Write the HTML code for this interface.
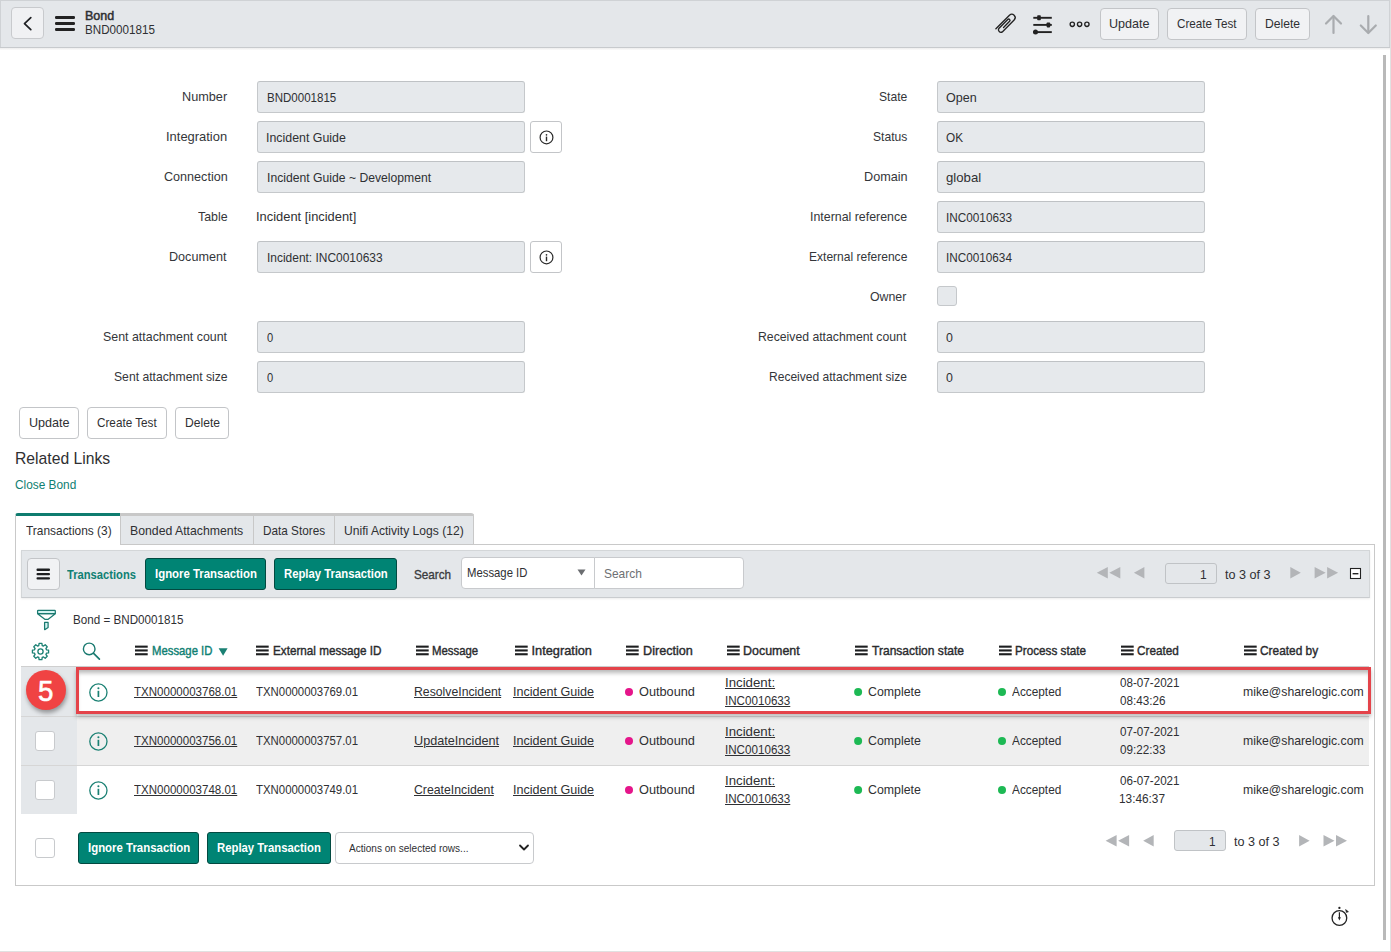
<!DOCTYPE html>
<html><head><meta charset="utf-8"><title>Bond BND0001815</title>
<style>
html,body{margin:0;padding:0;background:#fff;width:1391px;height:952px;overflow:hidden;position:relative}
.b{position:absolute}
.t{position:absolute;white-space:nowrap;font-family:"Liberation Sans",sans-serif;transform-origin:0 0}
</style></head><body>
<div class="b" style="left:0px;top:0px;width:1391px;height:47px;background:#e4e7ea;border-top:1px solid #cfd2d5;border-left:1px solid #cfd2d5;box-sizing:border-box"></div>
<div class="b" style="left:0px;top:47px;width:1391px;height:1px;background:#c7cacd"></div>
<div class="b" style="left:0px;top:48px;width:1390px;height:2px;background:linear-gradient(#ededed,#fbfbfb)"></div>
<div class="b" style="left:1389px;top:0px;width:1px;height:47px;background:#cfd2d5"></div>
<div class="b" style="left:1390px;top:0px;width:1px;height:952px;background:#e1e1e1"></div>
<div class="b" style="left:0px;top:951px;width:1391px;height:1px;background:#e1e1e1"></div>
<div class="b" style="left:11px;top:7px;width:33px;height:32px;background:#f0f1f3;border:1px solid #c8cacd;border-radius:4px;box-sizing:border-box"></div>
<div class="b" style="left:1100px;top:8px;width:59px;height:32px;background:#f1f2f4;border:1px solid #c3c5c8;border-radius:4px;box-sizing:border-box"></div>
<div class="b" style="left:1167px;top:8px;width:80px;height:32px;background:#f1f2f4;border:1px solid #c3c5c8;border-radius:4px;box-sizing:border-box"></div>
<div class="b" style="left:1255px;top:8px;width:55px;height:32px;background:#f1f2f4;border:1px solid #c3c5c8;border-radius:4px;box-sizing:border-box"></div>
<div class="b" style="left:1383px;top:55px;width:3px;height:885px;background:#b9b9b9"></div>
<div class="b" style="left:257px;top:81px;width:268px;height:32px;background:#e6e9ec;border:1px solid #c5c8cb;border-top-color:#bfc2c5;border-radius:3px;box-sizing:border-box"></div>
<div class="b" style="left:257px;top:121px;width:268px;height:32px;background:#e6e9ec;border:1px solid #c5c8cb;border-top-color:#bfc2c5;border-radius:3px;box-sizing:border-box"></div>
<div class="b" style="left:257px;top:161px;width:268px;height:32px;background:#e6e9ec;border:1px solid #c5c8cb;border-top-color:#bfc2c5;border-radius:3px;box-sizing:border-box"></div>
<div class="b" style="left:257px;top:241px;width:268px;height:32px;background:#e6e9ec;border:1px solid #c5c8cb;border-top-color:#bfc2c5;border-radius:3px;box-sizing:border-box"></div>
<div class="b" style="left:257px;top:321px;width:268px;height:32px;background:#e6e9ec;border:1px solid #c5c8cb;border-top-color:#bfc2c5;border-radius:3px;box-sizing:border-box"></div>
<div class="b" style="left:257px;top:361px;width:268px;height:32px;background:#e6e9ec;border:1px solid #c5c8cb;border-top-color:#bfc2c5;border-radius:3px;box-sizing:border-box"></div>
<div class="b" style="left:937px;top:81px;width:268px;height:32px;background:#e6e9ec;border:1px solid #c5c8cb;border-top-color:#bfc2c5;border-radius:3px;box-sizing:border-box"></div>
<div class="b" style="left:937px;top:121px;width:268px;height:32px;background:#e6e9ec;border:1px solid #c5c8cb;border-top-color:#bfc2c5;border-radius:3px;box-sizing:border-box"></div>
<div class="b" style="left:937px;top:161px;width:268px;height:32px;background:#e6e9ec;border:1px solid #c5c8cb;border-top-color:#bfc2c5;border-radius:3px;box-sizing:border-box"></div>
<div class="b" style="left:937px;top:201px;width:268px;height:32px;background:#e6e9ec;border:1px solid #c5c8cb;border-top-color:#bfc2c5;border-radius:3px;box-sizing:border-box"></div>
<div class="b" style="left:937px;top:241px;width:268px;height:32px;background:#e6e9ec;border:1px solid #c5c8cb;border-top-color:#bfc2c5;border-radius:3px;box-sizing:border-box"></div>
<div class="b" style="left:937px;top:321px;width:268px;height:32px;background:#e6e9ec;border:1px solid #c5c8cb;border-top-color:#bfc2c5;border-radius:3px;box-sizing:border-box"></div>
<div class="b" style="left:937px;top:361px;width:268px;height:32px;background:#e6e9ec;border:1px solid #c5c8cb;border-top-color:#bfc2c5;border-radius:3px;box-sizing:border-box"></div>
<div class="b" style="left:530px;top:121px;width:32px;height:32px;background:#fff;border:1px solid #c3c5c8;border-radius:3px;box-sizing:border-box"></div>
<div class="b" style="left:530px;top:241px;width:32px;height:32px;background:#fff;border:1px solid #c3c5c8;border-radius:3px;box-sizing:border-box"></div>
<div class="b" style="left:937px;top:286px;width:20px;height:20px;background:#e6e9ec;border:1px solid #c5c8cb;border-radius:3px;box-sizing:border-box"></div>
<div class="b" style="left:19px;top:407px;width:60px;height:32px;background:#fff;border:1px solid #c3c5c8;border-radius:4px;box-sizing:border-box"></div>
<div class="b" style="left:87px;top:407px;width:80px;height:32px;background:#fff;border:1px solid #c3c5c8;border-radius:4px;box-sizing:border-box"></div>
<div class="b" style="left:175px;top:407px;width:54px;height:32px;background:#fff;border:1px solid #c3c5c8;border-radius:4px;box-sizing:border-box"></div>
<div class="b" style="left:15px;top:513px;width:106px;height:32px;background:#fff;border-left:1px solid #c9c9c9;border-top:3px solid #0f7c6f;border-radius:3px 0 0 0;box-sizing:border-box"></div>
<div class="b" style="left:120px;top:513px;width:354px;height:32px;background:#e4e7ea;border-top:3px solid #c8c8c8;border-right:1px solid #c8c8c8;border-bottom:1px solid #c8c8c8;border-radius:0 3px 0 0;box-sizing:border-box"></div>
<div class="b" style="left:120px;top:516px;width:1px;height:28px;background:#c8c8c8"></div>
<div class="b" style="left:253px;top:516px;width:1px;height:28px;background:#c8c8c8"></div>
<div class="b" style="left:334px;top:516px;width:1px;height:28px;background:#c8c8c8"></div>
<div class="b" style="left:15px;top:544px;width:1px;height:342px;background:#c9c9c9"></div>
<div class="b" style="left:473px;top:544px;width:902px;height:1px;background:#c9c9c9"></div>
<div class="b" style="left:1374px;top:544px;width:1px;height:342px;background:#c9c9c9"></div>
<div class="b" style="left:15px;top:885px;width:1360px;height:1px;background:#c9c9c9"></div>
<div class="b" style="left:21px;top:550px;width:1349px;height:48px;background:#e4e7ea;border:1px solid #d3d6d8;border-bottom-color:#c9cccf;box-sizing:border-box;box-shadow:0 1px 2px rgba(0,0,0,.08)"></div>
<div class="b" style="left:27px;top:558px;width:33px;height:32px;background:#f1f2f4;border:1px solid #c3c5c8;border-radius:4px;box-sizing:border-box"></div>
<div class="b" style="left:145px;top:558px;width:121px;height:32px;background:#008474;border:1px solid #024a41;border-radius:3px;box-sizing:border-box"></div>
<div class="b" style="left:274px;top:558px;width:123px;height:32px;background:#008474;border:1px solid #024a41;border-radius:3px;box-sizing:border-box"></div>
<div class="b" style="left:461px;top:557px;width:134px;height:32px;background:#fff;border:1px solid #c8cacd;border-radius:4px 0 0 4px;box-sizing:border-box"></div>
<div class="b" style="left:594px;top:557px;width:150px;height:32px;background:#fff;border:1px solid #c8cacd;border-radius:0 4px 4px 0;box-sizing:border-box"></div>
<div class="b" style="left:1165px;top:563px;width:52px;height:21px;background:#e4e7ea;border:1px solid #c0c3c6;border-radius:3px;box-sizing:border-box"></div>
<div class="b" style="left:21px;top:666px;width:56px;height:148px;background:#e4e7ea"></div>
<div class="b" style="left:21px;top:666px;width:1348px;height:1px;background:#cfcfcf"></div>
<div class="b" style="left:77px;top:717px;width:1292px;height:48px;background:#efefef"></div>
<div class="b" style="left:21px;top:716px;width:1348px;height:1px;background:#d6d6d6"></div>
<div class="b" style="left:21px;top:765px;width:1348px;height:1px;background:#d6d6d6"></div>
<div class="b" style="left:35px;top:731px;width:20px;height:20px;background:#fff;border:1px solid #c8cacd;border-radius:3px;box-sizing:border-box"></div>
<div class="b" style="left:35px;top:780px;width:20px;height:20px;background:#fff;border:1px solid #c8cacd;border-radius:3px;box-sizing:border-box"></div>
<div class="b" style="left:35px;top:838px;width:20px;height:20px;background:#fff;border:1px solid #c8cacd;border-radius:3px;box-sizing:border-box"></div>
<div class="b" style="left:78px;top:832px;width:121px;height:32px;background:#008474;border:1px solid #024a41;border-radius:3px;box-sizing:border-box"></div>
<div class="b" style="left:207px;top:832px;width:124px;height:32px;background:#008474;border:1px solid #024a41;border-radius:3px;box-sizing:border-box"></div>
<div class="b" style="left:335px;top:832px;width:199px;height:32px;background:#fff;border:1px solid #c8cacd;border-radius:4px;box-sizing:border-box"></div>
<div class="b" style="left:1174px;top:830px;width:52px;height:21px;background:#e4e7ea;border:1px solid #c0c3c6;border-radius:3px;box-sizing:border-box"></div>
<div class="b" style="left:76px;top:667px;width:1295px;height:47px;border:3px solid #e4434a;box-sizing:border-box;box-shadow:0 3px 4px rgba(0,0,0,.25), inset 0 5px 4px -2px rgba(0,0,0,.28)"></div>
<div class="b" style="left:26px;top:670px;width:40px;height:40px;background:#f04343;border-radius:50%;box-shadow:1px 3px 4px rgba(0,0,0,.35)"></div>
<svg class="b" style="left:20px;top:14px" width="16" height="20" viewBox="0 0 16 20" ><path d="M10.8 3.6 L4.5 9.6 L10.8 15.7" fill="none" stroke="#1f2124" stroke-width="1.7" stroke-linecap="round" stroke-linejoin="round"/></svg>
<svg class="b" style="left:53px;top:14px" width="24" height="20" viewBox="0 0 24 20" ><rect x="2" y="2" width="20" height="3" rx="1.2" fill="#222"/><rect x="2" y="8" width="20" height="3" rx="1.2" fill="#222"/><rect x="2" y="14" width="20" height="3" rx="1.2" fill="#222"/></svg>
<svg class="b" style="left:990px;top:8px" width="30" height="30" viewBox="0 0 30 30" ><path transform="matrix(0.7071,-0.7071,0.7071,0.7071,-0.05,20.28)" d="M3.9 4.5 L23 4.6 A3.3 3.3 0 0 1 23 11.2 L6.2 11.3 A2.5 2.5 0 0 1 6.2 6.4 L18.8 6.4 A1.3 1.3 0 0 1 18.8 9.0 L10.2 9.0" fill="none" stroke="#222" stroke-width="1.35" stroke-linecap="round"/></svg>
<svg class="b" style="left:1031px;top:14px" width="24" height="22" viewBox="0 0 24 22" ><g stroke="#222" stroke-width="1.9"><line x1="2.3" y1="3.8" x2="20.8" y2="3.8"/><line x1="2.3" y1="10.9" x2="20.8" y2="10.9"/><line x1="2.3" y1="18.1" x2="20.8" y2="18.1"/></g><g fill="#222"><rect x="6.2" y="1.3" width="3.6" height="5" rx="0.8"/><rect x="15.6" y="8.4" width="3.6" height="5" rx="0.8"/><circle cx="4.5" cy="18.1" r="2.5"/></g></svg>
<svg class="b" style="left:1068px;top:19px" width="24" height="10" viewBox="0 0 24 10" ><circle cx="4.3" cy="5.3" r="2.15" fill="none" stroke="#222" stroke-width="1.35"/><circle cx="11.6" cy="5.3" r="2.15" fill="none" stroke="#222" stroke-width="1.35"/><circle cx="18.9" cy="5.3" r="2.15" fill="none" stroke="#222" stroke-width="1.35"/></svg>
<svg class="b" style="left:1323px;top:13px" width="22" height="24" viewBox="0 0 22 24" ><g fill="none" stroke="#a9acaf" stroke-width="2.2" stroke-linecap="round" stroke-linejoin="round"><path d="M10.5 20 V3.5"/><path d="M3 10.5 L10.5 3 L18 10.5"/></g></svg>
<svg class="b" style="left:1357px;top:13px" width="22" height="24" viewBox="0 0 22 24" ><g fill="none" stroke="#a9acaf" stroke-width="2.2" stroke-linecap="round" stroke-linejoin="round"><path d="M11.3 3 V19.5"/><path d="M3.8 12.5 L11.3 20 L18.8 12.5"/></g></svg>
<svg class="b" style="left:538px;top:129px" width="17" height="17" viewBox="0 0 17 17" ><circle cx="8.5" cy="8.4" r="6.4" fill="none" stroke="#2a2a2a" stroke-width="1.2"/><rect x="7.8" y="7.6" width="1.4" height="4.6" fill="#2a2a2a"/><circle cx="8.5" cy="5.8" r="0.85" fill="#2a2a2a"/></svg>
<svg class="b" style="left:538px;top:249px" width="17" height="17" viewBox="0 0 17 17" ><circle cx="8.5" cy="8.4" r="6.4" fill="none" stroke="#2a2a2a" stroke-width="1.2"/><rect x="7.8" y="7.6" width="1.4" height="4.6" fill="#2a2a2a"/><circle cx="8.5" cy="5.8" r="0.85" fill="#2a2a2a"/></svg>
<svg class="b" style="left:35px;top:567px" width="17" height="14" viewBox="0 0 17 14" ><rect x="1.5" y="1.6" width="13.5" height="2.3" rx="1" fill="#1d1e20"/><rect x="1.5" y="5.9" width="13.5" height="2.3" rx="1" fill="#1d1e20"/><rect x="1.5" y="10.2" width="13.5" height="2.3" rx="1" fill="#1d1e20"/></svg>
<svg class="b" style="left:576px;top:567px" width="12" height="10" viewBox="0 0 12 10" ><path d="M1.5 2.5 L9.5 2.5 L5.5 8.5 Z" fill="#6b6d70"/></svg>
<svg class="b" style="left:1090px;top:567px" width="280" height="12" viewBox="0 0 280 12" ><path d="M6.7999999999999545 5.75 L17.799999999999955 0 L17.799999999999955 11.5 Z" fill="#b3b5b8"/><path d="M19.299999999999955 5.75 L30.299999999999955 0 L30.299999999999955 11.5 Z" fill="#b3b5b8"/><path d="M43.90000000000009 5.75 L54.40000000000009 0 L54.40000000000009 11.5 Z" fill="#b3b5b8"/><path d="M210.79999999999995 5.75 L200.29999999999995 0 L200.29999999999995 11.5 Z" fill="#b3b5b8"/><path d="M235.5999999999999 5.75 L224.5999999999999 0 L224.5999999999999 11.5 Z" fill="#b3b5b8"/><path d="M248.0999999999999 5.75 L237.0999999999999 0 L237.0999999999999 11.5 Z" fill="#b3b5b8"/></svg>
<svg class="b" style="left:1090px;top:834.5px" width="280" height="12" viewBox="0 0 280 12" ><path d="M15.599999999999909 5.75 L26.59999999999991 0 L26.59999999999991 11.5 Z" fill="#b3b5b8"/><path d="M28.09999999999991 5.75 L39.09999999999991 0 L39.09999999999991 11.5 Z" fill="#b3b5b8"/><path d="M53.200000000000045 5.75 L63.700000000000045 0 L63.700000000000045 11.5 Z" fill="#b3b5b8"/><path d="M219.5999999999999 5.75 L209.0999999999999 0 L209.0999999999999 11.5 Z" fill="#b3b5b8"/><path d="M244.5 5.75 L233.5 0 L233.5 11.5 Z" fill="#b3b5b8"/><path d="M257.0 5.75 L246.0 0 L246.0 11.5 Z" fill="#b3b5b8"/></svg>
<svg class="b" style="left:1349px;top:567px" width="13" height="13" viewBox="0 0 13 13" ><rect x="1.5" y="1.5" width="10" height="10" fill="#fff" stroke="#222" stroke-width="1.1"/><rect x="3.6" y="6" width="5.8" height="1.4" fill="#222"/></svg>
<svg class="b" style="left:35px;top:608px" width="23" height="24" viewBox="0 0 23 24" ><g fill="#d2f3f1" stroke="#1a7a70" stroke-width="1.25" stroke-linejoin="round"><rect x="2.6" y="2.3" width="17.7" height="3.4" rx="0.6"/><path d="M2.6 5.7 L20.3 5.7 L13.2 11.3 L9.8 11.3 Z" fill="none"/><path d="M9.6 14.4 L13.1 14.4 L13.1 19.6 L10.1 21.6 L9.6 21.6 Z"/></g></svg>
<svg class="b" style="left:31px;top:642px" width="19" height="19" viewBox="0 0 19 19" ><path d="M15.46 7.78 L17.58 8.09 L17.58 10.91 L15.46 11.22 L14.93 12.50 L16.21 14.22 L14.22 16.21 L12.50 14.93 L11.22 15.46 L10.91 17.58 L8.09 17.58 L7.78 15.46 L6.50 14.93 L4.78 16.21 L2.79 14.22 L4.07 12.50 L3.54 11.22 L1.42 10.91 L1.42 8.09 L3.54 7.78 L4.07 6.50 L2.79 4.78 L4.78 2.79 L6.50 4.07 L7.78 3.54 L8.09 1.42 L10.91 1.42 L11.22 3.54 L12.50 4.07 L14.22 2.79 L16.21 4.78 L14.93 6.50 Z" fill="none" stroke="#1a8073" stroke-width="1.3" stroke-linejoin="round"/><circle cx="9.5" cy="9.5" r="2.6" fill="none" stroke="#1a8073" stroke-width="1.3"/></svg>
<svg class="b" style="left:82px;top:642px" width="20" height="20" viewBox="0 0 20 20" ><circle cx="7.2" cy="6.9" r="5.8" fill="none" stroke="#1a7a70" stroke-width="1.4"/><line x1="11.6" y1="11.3" x2="17.4" y2="17.1" stroke="#1a7a70" stroke-width="1.7" stroke-linecap="round"/></svg>
<svg class="b" style="left:135.3px;top:645px" width="14" height="11" viewBox="0 0 14 11" ><rect x="0" y="0.6" width="12.7" height="2.1" fill="#1d1e20"/><rect x="0" y="4.4" width="12.7" height="2.1" fill="#1d1e20"/><rect x="0" y="8.2" width="12.7" height="2.1" fill="#1d1e20"/></svg>
<svg class="b" style="left:256.3px;top:645px" width="14" height="11" viewBox="0 0 14 11" ><rect x="0" y="0.6" width="12.7" height="2.1" fill="#1d1e20"/><rect x="0" y="4.4" width="12.7" height="2.1" fill="#1d1e20"/><rect x="0" y="8.2" width="12.7" height="2.1" fill="#1d1e20"/></svg>
<svg class="b" style="left:415.5px;top:645px" width="14" height="11" viewBox="0 0 14 11" ><rect x="0" y="0.6" width="12.7" height="2.1" fill="#1d1e20"/><rect x="0" y="4.4" width="12.7" height="2.1" fill="#1d1e20"/><rect x="0" y="8.2" width="12.7" height="2.1" fill="#1d1e20"/></svg>
<svg class="b" style="left:515.4px;top:645px" width="14" height="11" viewBox="0 0 14 11" ><rect x="0" y="0.6" width="12.7" height="2.1" fill="#1d1e20"/><rect x="0" y="4.4" width="12.7" height="2.1" fill="#1d1e20"/><rect x="0" y="8.2" width="12.7" height="2.1" fill="#1d1e20"/></svg>
<svg class="b" style="left:626.4px;top:645px" width="14" height="11" viewBox="0 0 14 11" ><rect x="0" y="0.6" width="12.7" height="2.1" fill="#1d1e20"/><rect x="0" y="4.4" width="12.7" height="2.1" fill="#1d1e20"/><rect x="0" y="8.2" width="12.7" height="2.1" fill="#1d1e20"/></svg>
<svg class="b" style="left:727px;top:645px" width="14" height="11" viewBox="0 0 14 11" ><rect x="0" y="0.6" width="12.7" height="2.1" fill="#1d1e20"/><rect x="0" y="4.4" width="12.7" height="2.1" fill="#1d1e20"/><rect x="0" y="8.2" width="12.7" height="2.1" fill="#1d1e20"/></svg>
<svg class="b" style="left:854.8px;top:645px" width="14" height="11" viewBox="0 0 14 11" ><rect x="0" y="0.6" width="12.7" height="2.1" fill="#1d1e20"/><rect x="0" y="4.4" width="12.7" height="2.1" fill="#1d1e20"/><rect x="0" y="8.2" width="12.7" height="2.1" fill="#1d1e20"/></svg>
<svg class="b" style="left:999px;top:645px" width="14" height="11" viewBox="0 0 14 11" ><rect x="0" y="0.6" width="12.7" height="2.1" fill="#1d1e20"/><rect x="0" y="4.4" width="12.7" height="2.1" fill="#1d1e20"/><rect x="0" y="8.2" width="12.7" height="2.1" fill="#1d1e20"/></svg>
<svg class="b" style="left:1120.6px;top:645px" width="14" height="11" viewBox="0 0 14 11" ><rect x="0" y="0.6" width="12.7" height="2.1" fill="#1d1e20"/><rect x="0" y="4.4" width="12.7" height="2.1" fill="#1d1e20"/><rect x="0" y="8.2" width="12.7" height="2.1" fill="#1d1e20"/></svg>
<svg class="b" style="left:1243.5px;top:645px" width="14" height="11" viewBox="0 0 14 11" ><rect x="0" y="0.6" width="12.7" height="2.1" fill="#1d1e20"/><rect x="0" y="4.4" width="12.7" height="2.1" fill="#1d1e20"/><rect x="0" y="8.2" width="12.7" height="2.1" fill="#1d1e20"/></svg>
<svg class="b" style="left:218px;top:647px" width="11" height="10" viewBox="0 0 11 10" ><path d="M0.6 1.2 H9.6 L5.1 8.8 Z" fill="#1a8073"/></svg>
<svg class="b" style="left:88px;top:682.2px" width="21" height="21" viewBox="0 0 21 21" ><circle cx="10.4" cy="10.5" r="8.6" fill="none" stroke="#1a8073" stroke-width="1.3"/><rect x="9.55" y="8.8" width="1.7" height="6.2" fill="#1a8073"/><circle cx="10.4" cy="6.2" r="1.05" fill="#1a8073"/></svg>
<svg class="b" style="left:88px;top:731.3px" width="21" height="21" viewBox="0 0 21 21" ><circle cx="10.4" cy="10.5" r="8.6" fill="none" stroke="#1a8073" stroke-width="1.3"/><rect x="9.55" y="8.8" width="1.7" height="6.2" fill="#1a8073"/><circle cx="10.4" cy="6.2" r="1.05" fill="#1a8073"/></svg>
<svg class="b" style="left:88px;top:780.4px" width="21" height="21" viewBox="0 0 21 21" ><circle cx="10.4" cy="10.5" r="8.6" fill="none" stroke="#1a8073" stroke-width="1.3"/><rect x="9.55" y="8.8" width="1.7" height="6.2" fill="#1a8073"/><circle cx="10.4" cy="6.2" r="1.05" fill="#1a8073"/></svg>
<svg class="b" style="left:623px;top:687px" width="12" height="10" viewBox="0 0 12 10" ><circle cx="6" cy="5" r="4" fill="#e5158a"/></svg>
<svg class="b" style="left:852px;top:687px" width="12" height="10" viewBox="0 0 12 10" ><circle cx="6.1" cy="5" r="4" fill="#1db954"/></svg>
<svg class="b" style="left:996px;top:687px" width="12" height="10" viewBox="0 0 12 10" ><circle cx="6" cy="5" r="4" fill="#1db954"/></svg>
<svg class="b" style="left:623px;top:736px" width="12" height="10" viewBox="0 0 12 10" ><circle cx="6" cy="5" r="4" fill="#e5158a"/></svg>
<svg class="b" style="left:852px;top:736px" width="12" height="10" viewBox="0 0 12 10" ><circle cx="6.1" cy="5" r="4" fill="#1db954"/></svg>
<svg class="b" style="left:996px;top:736px" width="12" height="10" viewBox="0 0 12 10" ><circle cx="6" cy="5" r="4" fill="#1db954"/></svg>
<svg class="b" style="left:623px;top:785px" width="12" height="10" viewBox="0 0 12 10" ><circle cx="6" cy="5" r="4" fill="#e5158a"/></svg>
<svg class="b" style="left:852px;top:785px" width="12" height="10" viewBox="0 0 12 10" ><circle cx="6.1" cy="5" r="4" fill="#1db954"/></svg>
<svg class="b" style="left:996px;top:785px" width="12" height="10" viewBox="0 0 12 10" ><circle cx="6" cy="5" r="4" fill="#1db954"/></svg>
<svg class="b" style="left:518px;top:843px" width="12" height="10" viewBox="0 0 12 10" ><path d="M2 2.5 L6 6.5 L10 2.5" fill="none" stroke="#222" stroke-width="1.8" stroke-linecap="round" stroke-linejoin="round"/></svg>
<svg class="b" style="left:1328px;top:904px" width="24" height="26" viewBox="0 0 24 26" ><circle cx="11.4" cy="14" r="7.35" fill="none" stroke="#222" stroke-width="1.3"/><circle cx="11.4" cy="3.9" r="1.15" fill="#222"/><line x1="11.4" y1="8.3" x2="11.4" y2="14.5" stroke="#222" stroke-width="1.2"/><path d="M9.9 13.3 L11.4 16.6 L12.9 13.3 Z" fill="#222"/><path d="M17.6 5.6 L20.4 7.7 L18.5 8.4 Z" fill="#222" stroke="#222" stroke-width="0.7"/></svg>
<div class="t" style="left:85.42px;top:9.76px;font-size:12.8px;line-height:12.8px;color:#2f3033;transform:scaleX(0.9764);-webkit-text-stroke:0.5px #2f3033;">Bond</div>
<div class="t" style="left:85.47px;top:23.72px;font-size:12.5px;line-height:12.5px;color:#2f3033;transform:scaleX(0.9320);">BND0001815</div>
<div class="t" style="left:1109.35px;top:17.22px;font-size:13.2px;line-height:13.2px;color:#2f3033;transform:scaleX(0.9531);">Update</div>
<div class="t" style="left:1177.47px;top:17.22px;font-size:13.2px;line-height:13.2px;color:#2f3033;transform:scaleX(0.8859);">Create Test</div>
<div class="t" style="left:1265.38px;top:17.22px;font-size:13.2px;line-height:13.2px;color:#2f3033;transform:scaleX(0.9204);">Delete</div>
<div class="t" style="left:181.77px;top:90.19px;font-size:13.6px;line-height:13.6px;color:#34363a;transform:scaleX(0.9334);">Number</div>
<div class="t" style="left:166.46px;top:130.19px;font-size:13.6px;line-height:13.6px;color:#34363a;transform:scaleX(0.9517);">Integration</div>
<div class="t" style="left:163.84px;top:170.19px;font-size:13.6px;line-height:13.6px;color:#34363a;transform:scaleX(0.9266);">Connection</div>
<div class="t" style="left:197.73px;top:210.19px;font-size:13.6px;line-height:13.6px;color:#34363a;transform:scaleX(0.9100);">Table</div>
<div class="t" style="left:169.38px;top:250.19px;font-size:13.6px;line-height:13.6px;color:#34363a;transform:scaleX(0.9276);">Document</div>
<div class="t" style="left:102.75px;top:330.19px;font-size:13.6px;line-height:13.6px;color:#34363a;transform:scaleX(0.9121);">Sent attachment count</div>
<div class="t" style="left:113.66px;top:370.19px;font-size:13.6px;line-height:13.6px;color:#34363a;transform:scaleX(0.8948);">Sent attachment size</div>
<div class="t" style="left:878.86px;top:90.19px;font-size:13.6px;line-height:13.6px;color:#34363a;transform:scaleX(0.8924);">State</div>
<div class="t" style="left:872.77px;top:130.19px;font-size:13.6px;line-height:13.6px;color:#34363a;transform:scaleX(0.8894);">Status</div>
<div class="t" style="left:863.88px;top:170.19px;font-size:13.6px;line-height:13.6px;color:#34363a;transform:scaleX(0.9310);">Domain</div>
<div class="t" style="left:810.11px;top:210.19px;font-size:13.6px;line-height:13.6px;color:#34363a;transform:scaleX(0.9110);">Internal reference</div>
<div class="t" style="left:808.83px;top:250.19px;font-size:13.6px;line-height:13.6px;color:#34363a;transform:scaleX(0.8853);">External reference</div>
<div class="t" style="left:870.46px;top:290.19px;font-size:13.6px;line-height:13.6px;color:#34363a;transform:scaleX(0.9078);">Owner</div>
<div class="t" style="left:758.41px;top:330.19px;font-size:13.6px;line-height:13.6px;color:#34363a;transform:scaleX(0.9002);">Received attachment count</div>
<div class="t" style="left:769.23px;top:370.19px;font-size:13.6px;line-height:13.6px;color:#34363a;transform:scaleX(0.8860);">Received attachment size</div>
<div class="t" style="left:266.65px;top:91.35px;font-size:13.4px;line-height:13.4px;color:#2f3033;transform:scaleX(0.8616);">BND0001815</div>
<div class="t" style="left:266.49px;top:131.35px;font-size:13.4px;line-height:13.4px;color:#2f3033;transform:scaleX(0.9237);">Incident Guide</div>
<div class="t" style="left:266.51px;top:171.35px;font-size:13.4px;line-height:13.4px;color:#2f3033;transform:scaleX(0.9096);">Incident Guide ~ Development</div>
<div class="t" style="left:256.35px;top:210.35px;font-size:13.4px;line-height:13.4px;color:#2f3033;transform:scaleX(0.9622);">Incident [incident]</div>
<div class="t" style="left:266.53px;top:250.85px;font-size:13.4px;line-height:13.4px;color:#2f3033;transform:scaleX(0.8923);">Incident: INC0010633</div>
<div class="t" style="left:267.18px;top:331.35px;font-size:13.4px;line-height:13.4px;color:#2f3033;transform:scaleX(0.8308);">0</div>
<div class="t" style="left:267.18px;top:371.35px;font-size:13.4px;line-height:13.4px;color:#2f3033;transform:scaleX(0.8308);">0</div>
<div class="t" style="left:946.34px;top:91.35px;font-size:13.4px;line-height:13.4px;color:#2f3033;transform:scaleX(0.9353);">Open</div>
<div class="t" style="left:946.37px;top:131.35px;font-size:13.4px;line-height:13.4px;color:#2f3033;transform:scaleX(0.8806);">OK</div>
<div class="t" style="left:946.41px;top:171.35px;font-size:13.4px;line-height:13.4px;color:#2f3033;transform:scaleX(0.9829);">global</div>
<div class="t" style="left:945.85px;top:211.35px;font-size:13.4px;line-height:13.4px;color:#2f3033;transform:scaleX(0.8790);">INC0010633</div>
<div class="t" style="left:945.85px;top:251.35px;font-size:13.4px;line-height:13.4px;color:#2f3033;transform:scaleX(0.8766);">INC0010634</div>
<div class="t" style="left:946.44px;top:331.35px;font-size:13.4px;line-height:13.4px;color:#2f3033;transform:scaleX(0.9231);">0</div>
<div class="t" style="left:946.44px;top:371.35px;font-size:13.4px;line-height:13.4px;color:#2f3033;transform:scaleX(0.9231);">0</div>
<div class="t" style="left:28.54px;top:416.32px;font-size:13.2px;line-height:13.2px;color:#2f3033;transform:scaleX(0.9555);">Update</div>
<div class="t" style="left:96.77px;top:416.32px;font-size:13.2px;line-height:13.2px;color:#2f3033;transform:scaleX(0.8888);">Create Test</div>
<div class="t" style="left:184.68px;top:416.32px;font-size:13.2px;line-height:13.2px;color:#2f3033;transform:scaleX(0.9177);">Delete</div>
<div class="t" style="left:14.60px;top:450.01px;font-size:17px;line-height:17px;color:#2f3033;transform:scaleX(0.9238);">Related Links</div>
<div class="t" style="left:15.27px;top:478.15px;font-size:13.4px;line-height:13.4px;color:#0f8073;transform:scaleX(0.8846);">Close Bond</div>
<div class="t" style="left:25.62px;top:524.22px;font-size:13.2px;line-height:13.2px;color:#2f3033;transform:scaleX(0.9033);">Transactions (3)</div>
<div class="t" style="left:130.37px;top:524.22px;font-size:13.2px;line-height:13.2px;color:#2f3033;transform:scaleX(0.9303);">Bonded Attachments</div>
<div class="t" style="left:263.01px;top:524.22px;font-size:13.2px;line-height:13.2px;color:#2f3033;transform:scaleX(0.8917);">Data Stores</div>
<div class="t" style="left:343.68px;top:524.22px;font-size:13.2px;line-height:13.2px;color:#2f3033;transform:scaleX(0.9173);">Unifi Activity Logs (12)</div>
<div class="t" style="left:67.42px;top:567.52px;font-size:13.2px;line-height:13.2px;color:#0f8073;font-weight:bold;transform:scaleX(0.8479);">Transactions</div>
<div class="t" style="left:154.81px;top:566.92px;font-size:13.2px;line-height:13.2px;color:#fff;font-weight:bold;transform:scaleX(0.8642);">Ignore Transaction</div>
<div class="t" style="left:284.11px;top:566.92px;font-size:13.2px;line-height:13.2px;color:#fff;font-weight:bold;transform:scaleX(0.8579);">Replay Transaction</div>
<div class="t" style="left:414.37px;top:567.62px;font-size:13.2px;line-height:13.2px;color:#3a3c40;transform:scaleX(0.8863);-webkit-text-stroke:0.35px #3a3c40;">Search</div>
<div class="t" style="left:466.53px;top:566.39px;font-size:13px;line-height:13px;color:#2f3033;transform:scaleX(0.8706);">Message ID</div>
<div class="t" style="left:603.86px;top:566.72px;font-size:13.2px;line-height:13.2px;color:#6e7073;transform:scaleX(0.9063);">Search</div>
<div class="t" style="left:1199.89px;top:567.52px;font-size:13.2px;line-height:13.2px;color:#2f3033;transform:scaleX(0.9123);">1</div>
<div class="t" style="left:1224.71px;top:567.52px;font-size:13.2px;line-height:13.2px;color:#2f3033;transform:scaleX(0.9561);">to 3 of 3</div>
<div class="t" style="left:72.60px;top:613.29px;font-size:13px;line-height:13px;color:#2f3033;transform:scaleX(0.8956);">Bond = BND0001815</div>
<div class="t" style="left:151.62px;top:644.86px;font-size:12.8px;line-height:12.8px;color:#0f8073;transform:scaleX(0.8846);-webkit-text-stroke:0.4px #0f8073;">Message ID</div>
<div class="t" style="left:272.59px;top:644.86px;font-size:12.8px;line-height:12.8px;color:#2a2b2e;transform:scaleX(0.9136);-webkit-text-stroke:0.4px #2a2b2e;">External message ID</div>
<div class="t" style="left:431.91px;top:644.86px;font-size:12.8px;line-height:12.8px;color:#2a2b2e;transform:scaleX(0.8894);-webkit-text-stroke:0.4px #2a2b2e;">Message</div>
<div class="t" style="left:531.50px;top:644.86px;font-size:12.8px;line-height:12.8px;color:#2a2b2e;-webkit-text-stroke:0.4px #2a2b2e;">Integration</div>
<div class="t" style="left:642.71px;top:644.86px;font-size:12.8px;line-height:12.8px;color:#2a2b2e;transform:scaleX(0.9880);-webkit-text-stroke:0.4px #2a2b2e;">Direction</div>
<div class="t" style="left:743.23px;top:644.86px;font-size:12.8px;line-height:12.8px;color:#2a2b2e;transform:scaleX(0.9726);-webkit-text-stroke:0.4px #2a2b2e;">Document</div>
<div class="t" style="left:872.31px;top:644.86px;font-size:12.8px;line-height:12.8px;color:#2a2b2e;transform:scaleX(0.9416);-webkit-text-stroke:0.4px #2a2b2e;">Transaction state</div>
<div class="t" style="left:1015.29px;top:644.86px;font-size:12.8px;line-height:12.8px;color:#2a2b2e;transform:scaleX(0.9146);-webkit-text-stroke:0.4px #2a2b2e;">Process state</div>
<div class="t" style="left:1137.35px;top:644.86px;font-size:12.8px;line-height:12.8px;color:#2a2b2e;transform:scaleX(0.9187);-webkit-text-stroke:0.4px #2a2b2e;">Created</div>
<div class="t" style="left:1260.44px;top:644.86px;font-size:12.8px;line-height:12.8px;color:#2a2b2e;transform:scaleX(0.9277);-webkit-text-stroke:0.4px #2a2b2e;">Created by</div>
<div class="t" style="left:133.74px;top:685.15px;font-size:13.4px;line-height:13.4px;color:#2f3033;transform:scaleX(0.8613);text-decoration:underline;text-underline-offset:1px;">TXN0000003768.01</div>
<div class="t" style="left:255.64px;top:685.15px;font-size:13.4px;line-height:13.4px;color:#2f3033;transform:scaleX(0.8513);">TXN0000003769.01</div>
<div class="t" style="left:413.69px;top:685.15px;font-size:13.4px;line-height:13.4px;color:#2f3033;transform:scaleX(0.9149);text-decoration:underline;text-underline-offset:1px;">ResolveIncident</div>
<div class="t" style="left:513.17px;top:685.15px;font-size:13.4px;line-height:13.4px;color:#2f3033;transform:scaleX(0.9379);text-decoration:underline;text-underline-offset:1px;">Incident Guide</div>
<div class="t" style="left:639.23px;top:685.15px;font-size:13.4px;line-height:13.4px;color:#2f3033;transform:scaleX(0.9511);">Outbound</div>
<div class="t" style="left:725.11px;top:676.45px;font-size:13.4px;line-height:13.4px;color:#2f3033;transform:scaleX(0.9890);text-decoration:underline;text-underline-offset:1px;">Incident:</div>
<div class="t" style="left:725.26px;top:694.35px;font-size:13.4px;line-height:13.4px;color:#2f3033;transform:scaleX(0.8681);text-decoration:underline;text-underline-offset:1px;">INC0010633</div>
<div class="t" style="left:868.05px;top:685.15px;font-size:13.4px;line-height:13.4px;color:#2f3033;transform:scaleX(0.9218);">Complete</div>
<div class="t" style="left:1012.30px;top:685.15px;font-size:13.4px;line-height:13.4px;color:#2f3033;transform:scaleX(0.8833);">Accepted</div>
<div class="t" style="left:1119.77px;top:676.35px;font-size:13.4px;line-height:13.4px;color:#2f3033;transform:scaleX(0.8695);">08-07-2021</div>
<div class="t" style="left:1119.76px;top:693.75px;font-size:13.4px;line-height:13.4px;color:#2f3033;transform:scaleX(0.8727);">08:43:26</div>
<div class="t" style="left:1242.97px;top:685.15px;font-size:13.4px;line-height:13.4px;color:#2f3033;transform:scaleX(0.9145);">mike@sharelogic.com</div>
<div class="t" style="left:133.74px;top:734.15px;font-size:13.4px;line-height:13.4px;color:#2f3033;transform:scaleX(0.8613);text-decoration:underline;text-underline-offset:1px;">TXN0000003756.01</div>
<div class="t" style="left:255.64px;top:734.15px;font-size:13.4px;line-height:13.4px;color:#2f3033;transform:scaleX(0.8513);">TXN0000003757.01</div>
<div class="t" style="left:413.76px;top:734.15px;font-size:13.4px;line-height:13.4px;color:#2f3033;transform:scaleX(0.9437);text-decoration:underline;text-underline-offset:1px;">UpdateIncident</div>
<div class="t" style="left:513.17px;top:734.15px;font-size:13.4px;line-height:13.4px;color:#2f3033;transform:scaleX(0.9379);text-decoration:underline;text-underline-offset:1px;">Incident Guide</div>
<div class="t" style="left:639.23px;top:734.15px;font-size:13.4px;line-height:13.4px;color:#2f3033;transform:scaleX(0.9511);">Outbound</div>
<div class="t" style="left:725.11px;top:725.45px;font-size:13.4px;line-height:13.4px;color:#2f3033;transform:scaleX(0.9890);text-decoration:underline;text-underline-offset:1px;">Incident:</div>
<div class="t" style="left:725.26px;top:743.35px;font-size:13.4px;line-height:13.4px;color:#2f3033;transform:scaleX(0.8681);text-decoration:underline;text-underline-offset:1px;">INC0010633</div>
<div class="t" style="left:868.05px;top:734.15px;font-size:13.4px;line-height:13.4px;color:#2f3033;transform:scaleX(0.9218);">Complete</div>
<div class="t" style="left:1012.30px;top:734.15px;font-size:13.4px;line-height:13.4px;color:#2f3033;transform:scaleX(0.8833);">Accepted</div>
<div class="t" style="left:1119.77px;top:725.35px;font-size:13.4px;line-height:13.4px;color:#2f3033;transform:scaleX(0.8695);">07-07-2021</div>
<div class="t" style="left:1119.76px;top:742.75px;font-size:13.4px;line-height:13.4px;color:#2f3033;transform:scaleX(0.8727);">09:22:33</div>
<div class="t" style="left:1242.97px;top:734.15px;font-size:13.4px;line-height:13.4px;color:#2f3033;transform:scaleX(0.9145);">mike@sharelogic.com</div>
<div class="t" style="left:133.74px;top:783.15px;font-size:13.4px;line-height:13.4px;color:#2f3033;transform:scaleX(0.8613);text-decoration:underline;text-underline-offset:1px;">TXN0000003748.01</div>
<div class="t" style="left:255.64px;top:783.15px;font-size:13.4px;line-height:13.4px;color:#2f3033;transform:scaleX(0.8513);">TXN0000003749.01</div>
<div class="t" style="left:414.15px;top:783.15px;font-size:13.4px;line-height:13.4px;color:#2f3033;transform:scaleX(0.9165);text-decoration:underline;text-underline-offset:1px;">CreateIncident</div>
<div class="t" style="left:513.17px;top:783.15px;font-size:13.4px;line-height:13.4px;color:#2f3033;transform:scaleX(0.9379);text-decoration:underline;text-underline-offset:1px;">Incident Guide</div>
<div class="t" style="left:639.23px;top:783.15px;font-size:13.4px;line-height:13.4px;color:#2f3033;transform:scaleX(0.9511);">Outbound</div>
<div class="t" style="left:725.11px;top:774.45px;font-size:13.4px;line-height:13.4px;color:#2f3033;transform:scaleX(0.9890);text-decoration:underline;text-underline-offset:1px;">Incident:</div>
<div class="t" style="left:725.26px;top:792.35px;font-size:13.4px;line-height:13.4px;color:#2f3033;transform:scaleX(0.8681);text-decoration:underline;text-underline-offset:1px;">INC0010633</div>
<div class="t" style="left:868.05px;top:783.15px;font-size:13.4px;line-height:13.4px;color:#2f3033;transform:scaleX(0.9218);">Complete</div>
<div class="t" style="left:1012.30px;top:783.15px;font-size:13.4px;line-height:13.4px;color:#2f3033;transform:scaleX(0.8833);">Accepted</div>
<div class="t" style="left:1119.77px;top:774.35px;font-size:13.4px;line-height:13.4px;color:#2f3033;transform:scaleX(0.8695);">06-07-2021</div>
<div class="t" style="left:1119.32px;top:791.75px;font-size:13.4px;line-height:13.4px;color:#2f3033;transform:scaleX(0.8830);">13:46:37</div>
<div class="t" style="left:1242.97px;top:783.15px;font-size:13.4px;line-height:13.4px;color:#2f3033;transform:scaleX(0.9145);">mike@sharelogic.com</div>
<div class="t" style="left:87.91px;top:840.52px;font-size:13.2px;line-height:13.2px;color:#fff;font-weight:bold;transform:scaleX(0.8659);">Ignore Transaction</div>
<div class="t" style="left:217.41px;top:840.52px;font-size:13.2px;line-height:13.2px;color:#fff;font-weight:bold;transform:scaleX(0.8587);">Replay Transaction</div>
<div class="t" style="left:349.00px;top:842.83px;font-size:11.3px;line-height:11.3px;color:#2f3033;transform:scaleX(0.8893);">Actions on selected rows...</div>
<div class="t" style="left:1209.01px;top:834.52px;font-size:13.2px;line-height:13.2px;color:#2f3033;transform:scaleX(0.8947);">1</div>
<div class="t" style="left:1233.61px;top:834.52px;font-size:13.2px;line-height:13.2px;color:#2f3033;transform:scaleX(0.9561);">to 3 of 3</div>
<div class="t" style="left:38.13px;top:677.15px;font-size:29px;line-height:29px;color:#fff;transform:scaleX(0.9558);-webkit-text-stroke:0.6px #fff;">5</div>
</body></html>
